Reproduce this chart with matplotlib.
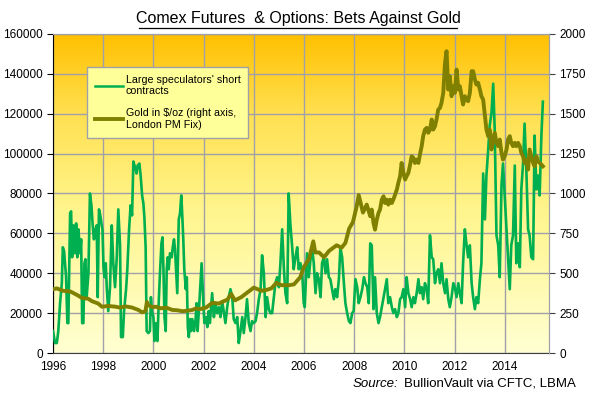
import numpy as np
import matplotlib
matplotlib.use("Agg")
from matplotlib import pyplot as plt
from matplotlib.colors import LinearSegmentedColormap
from matplotlib.lines import Line2D

plt.rcParams["font.family"] = ["Liberation Sans", "DejaVu Sans"]

# large speculators' short contracts (thousands)
short_years = [1996.00, 1996.08, 1996.15, 1996.21, 1996.28, 1996.35, 1996.39, 1996.44, 1996.52, 1996.57,
               1996.61, 1996.68, 1996.72, 1996.76, 1996.81, 1996.88, 1996.92, 1996.97, 1997.01, 1997.08,
               1997.12, 1997.16, 1997.21, 1997.25, 1997.29, 1997.34, 1997.41, 1997.47, 1997.53, 1997.58,
               1997.63, 1997.69, 1997.74, 1997.78, 1997.83, 1997.87, 1997.94, 1997.97, 1998.01, 1998.05,
               1998.10, 1998.14, 1998.20, 1998.27, 1998.34, 1998.40, 1998.47, 1998.54, 1998.60, 1998.67,
               1998.71, 1998.78, 1998.83, 1998.91, 1998.96, 1999.03, 1999.09, 1999.15, 1999.20, 1999.27,
               1999.33, 1999.37, 1999.44, 1999.49, 1999.55, 1999.60, 1999.64, 1999.69, 1999.73, 1999.80,
               1999.86, 1999.90, 1999.94, 2000.00, 2000.04, 2000.10, 2000.16, 2000.21, 2000.26, 2000.32,
               2000.36, 2000.40, 2000.44, 2000.49, 2000.53, 2000.57, 2000.61, 2000.66, 2000.73, 2000.77,
               2000.82, 2000.86, 2000.90, 2000.95, 2001.01, 2001.06, 2001.11, 2001.15, 2001.19, 2001.23,
               2001.29, 2001.33, 2001.37, 2001.41, 2001.46, 2001.50, 2001.55, 2001.62, 2001.68, 2001.72,
               2001.76, 2001.82, 2001.86, 2001.92, 2001.99, 2002.03, 2002.10, 2002.15, 2002.20, 2002.25,
               2002.34, 2002.41, 2002.47, 2002.54, 2002.61, 2002.67, 2002.74, 2002.80, 2002.87, 2002.94,
               2003.00, 2003.07, 2003.14, 2003.20, 2003.27, 2003.34, 2003.40, 2003.47, 2003.54, 2003.60,
               2003.67, 2003.73, 2003.80, 2003.87, 2003.93, 2004.00, 2004.07, 2004.13, 2004.20, 2004.27,
               2004.33, 2004.40, 2004.47, 2004.53, 2004.60, 2004.66, 2004.73, 2004.80, 2004.86, 2004.93,
               2005.00, 2005.06, 2005.13, 2005.20, 2005.26, 2005.33, 2005.39, 2005.46, 2005.53, 2005.59,
               2005.66, 2005.73, 2005.79, 2005.86, 2005.93, 2005.99, 2006.03, 2006.07, 2006.12, 2006.19,
               2006.26, 2006.32, 2006.39, 2006.46, 2006.52, 2006.59, 2006.66, 2006.72, 2006.79, 2006.86,
               2006.92, 2006.99, 2007.05, 2007.12, 2007.19, 2007.25, 2007.32, 2007.39, 2007.45, 2007.52,
               2007.59, 2007.65, 2007.72, 2007.79, 2007.85, 2007.92, 2007.98, 2008.05, 2008.12, 2008.18,
               2008.25, 2008.32, 2008.39, 2008.45, 2008.52, 2008.58, 2008.64, 2008.70, 2008.77, 2008.83,
               2008.90, 2008.97, 2009.03, 2009.10, 2009.17, 2009.23, 2009.30, 2009.36, 2009.43, 2009.50,
               2009.56, 2009.63, 2009.70, 2009.76, 2009.83, 2009.89, 2009.96, 2010.03, 2010.09, 2010.16,
               2010.23, 2010.29, 2010.36, 2010.42, 2010.49, 2010.56, 2010.62, 2010.69, 2010.75, 2010.82,
               2010.89, 2010.95, 2011.02, 2011.09, 2011.15, 2011.22, 2011.28, 2011.35, 2011.42, 2011.48,
               2011.55, 2011.62, 2011.68, 2011.75, 2011.81, 2011.88, 2011.95, 2012.01, 2012.08, 2012.15,
               2012.21, 2012.28, 2012.34, 2012.41, 2012.48, 2012.54, 2012.61, 2012.68, 2012.74, 2012.81,
               2012.87, 2012.94, 2013.01, 2013.07, 2013.14, 2013.21, 2013.27, 2013.34, 2013.40, 2013.47,
               2013.54, 2013.60, 2013.67, 2013.74, 2013.80, 2013.87, 2013.93, 2014.00, 2014.07, 2014.13,
               2014.20, 2014.26, 2014.33, 2014.40, 2014.46, 2014.53, 2014.60, 2014.66, 2014.73, 2014.79,
               2014.86, 2014.93, 2014.99, 2015.06, 2015.13, 2015.19, 2015.26, 2015.32, 2015.39, 2015.46,
               2015.52]
short_k = [11, 5, 5, 11, 25, 35, 53, 51, 38, 15,
           15, 70, 71, 48, 64, 50, 65, 48, 62, 50,
           57, 15, 15, 45, 47, 28, 40, 80, 74, 64,
           57, 62, 64, 28, 72, 70, 64, 62, 43, 38,
           45, 33, 21, 33, 64, 45, 33, 48, 72, 54,
           8, 8, 21, 32, 42, 62, 74, 69, 96, 93,
           90, 94, 95, 89, 79, 75, 68, 53, 11, 10,
           11, 28, 21, 18, 6, 15, 6, 25, 40, 55,
           58, 42, 18, 11, 42, 48, 42, 50, 48, 53,
           57, 52, 42, 30, 67, 70, 79, 69, 57, 42,
           32, 38, 13, 8, 17, 11, 17, 11, 17, 25,
           11, 23, 32, 45, 25, 15, 18, 13, 21, 15,
           30, 18, 25, 20, 23, 18, 26, 21, 15, 23,
           28, 32, 28, 17, 15, 18, 5, 11, 18, 10,
           18, 27, 15, 11, 16, 15, 16, 20, 27, 32,
           49, 40, 18, 28, 22, 20, 20, 28, 35, 38,
           33, 45, 62, 42, 30, 25, 80, 64, 53, 42,
           48, 53, 42, 45, 40, 25, 23, 35, 50, 38,
           47, 53, 45, 30, 40, 37, 28, 45, 48, 40,
           47, 38, 37, 32, 27, 32, 28, 37, 53, 48,
           35, 25, 20, 16, 15, 20, 21, 37, 33, 25,
           28, 32, 38, 35, 33, 25, 55, 54, 22, 38,
           20, 15, 18, 23, 28, 32, 37, 25, 28, 23,
           20, 22, 18, 20, 27, 28, 32, 23, 38, 30,
           27, 23, 28, 25, 30, 37, 30, 33, 27, 35,
           32, 25, 59, 48, 47, 35, 40, 42, 35, 45,
           35, 30, 37, 27, 23, 28, 35, 33, 28, 35,
           30, 25, 45, 62, 54, 48, 54, 35, 28, 22,
           28, 25, 37, 45, 90, 67, 89, 102, 114, 120,
           135, 112, 59, 54, 38, 84, 95, 79, 62, 48,
           32, 54, 59, 94, 45, 55, 43, 82, 95, 115,
           92, 62, 59, 48, 47, 109, 82, 89, 79, 109,
           126]

# gold, $/oz London PM fix (right axis)
gold_years = [1996.00, 1996.15, 1996.40, 1996.70, 1997.00, 1997.15, 1997.40, 1997.55, 1997.80, 1997.95,
              1998.20, 1998.50, 1998.65, 1998.90, 1999.15, 1999.40, 1999.55, 1999.68, 1999.74, 1999.80,
              1999.95, 2000.10, 2000.30, 2000.50, 2000.75, 2000.95, 2001.15, 2001.35, 2001.55, 2001.70,
              2001.85, 2002.10, 2002.35, 2002.60, 2002.95, 2003.10, 2003.25, 2003.50, 2003.75, 2004.00,
              2004.30, 2004.50, 2004.70, 2004.90, 2005.10, 2005.40, 2005.60, 2005.85, 2006.00, 2006.20,
              2006.37, 2006.45, 2006.60, 2006.80, 2007.00, 2007.30, 2007.50, 2007.65, 2007.80, 2007.95,
              2008.10, 2008.18, 2008.35, 2008.50, 2008.64, 2008.70, 2008.77, 2008.83, 2008.90, 2008.97,
              2009.03, 2009.10, 2009.17, 2009.23, 2009.30, 2009.36, 2009.43, 2009.50, 2009.56, 2009.63,
              2009.70, 2009.76, 2009.83, 2009.89, 2009.96, 2010.03, 2010.09, 2010.16, 2010.23, 2010.29,
              2010.36, 2010.42, 2010.49, 2010.56, 2010.62, 2010.69, 2010.75, 2010.82, 2010.89, 2010.95,
              2011.02, 2011.09, 2011.15, 2011.22, 2011.28, 2011.35, 2011.42, 2011.48, 2011.55, 2011.62,
              2011.68, 2011.75, 2011.81, 2011.88, 2011.95, 2012.01, 2012.08, 2012.15, 2012.21, 2012.28,
              2012.34, 2012.41, 2012.48, 2012.54, 2012.61, 2012.68, 2012.74, 2012.81, 2012.87, 2012.94,
              2013.01, 2013.07, 2013.14, 2013.21, 2013.27, 2013.34, 2013.40, 2013.47, 2013.54, 2013.60,
              2013.67, 2013.74, 2013.80, 2013.87, 2013.93, 2014.00, 2014.07, 2014.13, 2014.20, 2014.26,
              2014.33, 2014.40, 2014.46, 2014.53, 2014.60, 2014.66, 2014.73, 2014.79, 2014.86, 2014.93,
              2014.99, 2015.06, 2015.13, 2015.19, 2015.26, 2015.32, 2015.39, 2015.46, 2015.52]
gold_usd = [400, 405, 390, 385, 360, 345, 340, 325, 310, 290,
            295, 290, 285, 292, 285, 270, 255, 262, 320, 300,
            288, 290, 280, 285, 270, 268, 262, 265, 270, 280,
            275, 285, 315, 310, 335, 370, 330, 350, 380, 410,
            390, 395, 405, 440, 425, 425, 430, 475, 540, 590,
            700, 630, 630, 600, 640, 675, 660, 690, 780, 820,
            920, 990, 880, 930, 857, 899, 815, 773, 836, 878,
            899, 961, 982, 940, 961, 930, 961, 940, 961, 993,
            1024, 1066, 1108, 1191, 1129, 1087, 1108, 1129, 1181, 1233,
            1223, 1191, 1212, 1191, 1244, 1296, 1359, 1400, 1411, 1380,
            1400, 1463, 1400, 1421, 1463, 1526, 1536, 1568, 1630, 1818,
            1891, 1651, 1735, 1609, 1672, 1630, 1776, 1651, 1672, 1609,
            1557, 1609, 1588, 1578, 1630, 1766, 1766, 1714, 1682, 1693,
            1651, 1609, 1588, 1484, 1400, 1359, 1400, 1275, 1338, 1380,
            1317, 1296, 1338, 1254, 1212, 1233, 1275, 1338, 1359, 1317,
            1296, 1317, 1296, 1317, 1296, 1254, 1233, 1191, 1212, 1150,
            1275, 1233, 1191, 1170, 1233, 1202, 1191, 1181, 1170]

year_ticks = [1996, 1998, 2000, 2002, 2004, 2006, 2008, 2010, 2012, 2014]

green = "#00B050"
olive = "#808000"

fig = plt.figure(figsize=(5.96, 3.98), dpi=100)
ax = fig.add_axes([0.089, 0.113, 0.832, 0.802])

# orange-to-pale-yellow background
cmap = LinearSegmentedColormap.from_list("bg", [(0, "#FFFFD2"), (0.45, "#FFF58C"), (0.75, "#FFE050"), (1, "#FFC000")])
grad = np.linspace(0, 1, 256).reshape(-1, 1)
ax.imshow(grad, cmap=cmap, aspect="auto", extent=[1996, 2015.76, 0, 160000], origin="lower", zorder=0)

ax.plot(short_years, np.array(short_k) * 1000, color=green, lw=1.9, zorder=3)
ax.set_xlim(1996, 2015.76)
ax.set_ylim(0, 160000)
ax.set_yticks(range(0, 160001, 20000))
ax.set_xticks(year_ticks)
ax.grid(True, color="#A0A0A8", lw=1, zorder=1)
ax.set_axisbelow(True)
ax.tick_params(axis="y", direction="out", length=4, labelsize=8.5, color="black")
ax.tick_params(axis="x", length=0, labelsize=8.5, pad=6)
for s in ["top", "right"]:
    ax.spines[s].set_color("#A0A0A8")
ax.spines["left"].set_color("black")
ax.spines["bottom"].set_color("#404040")

ax2 = ax.twinx()
ax2.plot(gold_years, gold_usd, color=olive, lw=2.8, zorder=3)
ax2.set_ylim(0, 2000)
ax2.set_yticks(range(0, 2001, 250))
ax2.tick_params(axis="y", direction="out", length=4, labelsize=8.5, color="#404040")
ax2.spines["right"].set_color("#A0A0A8")
ax2.spines["top"].set_color("#A0A0A8")
ax2.spines["left"].set_visible(False)
ax2.spines["bottom"].set_visible(False)

handles = [Line2D([], [], color=green, lw=1.8), Line2D([], [], color=olive, lw=2.8)]
labels = ["Large speculators' short\ncontracts", "Gold in $/oz (right axis,\nLondon PM Fix)"]
leg = ax2.legend(handles, labels, loc="upper left", bbox_to_anchor=(0.0685, 0.897),
                 borderaxespad=0, fontsize=7.7, frameon=True, fancybox=False, facecolor="#FFFF99",
                 edgecolor="#A0A0A8", framealpha=1, handlelength=2.6, handletextpad=0.25,
                 labelspacing=1.1, borderpad=0.75)
leg.get_frame().set_linewidth(1)

fig.text(0.5, 0.935, "Comex Futures  & Options: Bets Against Gold", ha="center", va="bottom",
         fontsize=11.5)
# underline under the title
fig.add_artist(Line2D([0.233, 0.767], [0.93, 0.93], color="black", lw=0.9))

fig.text(0.592, 0.028, "Source:", style="italic", fontsize=9.5, ha="left", va="baseline")
fig.text(0.967, 0.028, "BullionVault via CFTC, LBMA", fontsize=9.5, ha="right", va="baseline")

fig.savefig("out.png", dpi=100)
